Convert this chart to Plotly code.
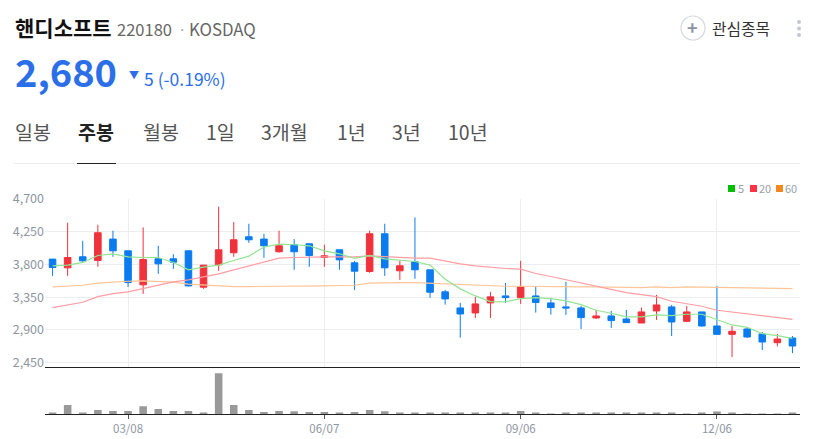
import plotly.graph_objects as go

FONT = "Noto Sans CJK KR"
W, H = 818, 439

weeks = list(range(50))
tick_weeks = [5, 18, 31, 44]
tick_dates = ["03/08", "06/07", "09/06", "12/06"]
price_ticks = [2450, 2900, 3350, 3800, 4250, 4700]

opens = [3874, 3754, 3906, 3855, 4149, 3988, 3520, 3878, 3878, 3988,
         3488, 3795, 3961, 4181, 4149, 3975, 4071, 4085, 3896, 4002,
         3823, 3704, 4222, 3713, 3837, 3727, 3424, 3203, 3134, 3272,
         3368, 3345, 3368, 3272, 3217, 3203, 3065, 3093, 3051, 2996,
         3162, 3217, 3019, 3148, 2955, 2840, 2914, 2845, 2725, 2790]
closes = [3759, 3896, 3850, 4236, 3988, 3552, 3869, 3809, 3832, 3506,
          3791, 4002, 4140, 4140, 4057, 4057, 3975, 3924, 3919, 3864,
          3708, 4222, 3754, 3782, 3727, 3419, 3327, 3120, 3258, 3355,
          3345, 3492, 3277, 3208, 3203, 3070, 3093, 3029, 3001, 3148,
          3244, 3010, 3148, 2955, 2840, 2882, 2804, 2735, 2776, 2680]
highs = [3874, 4374, 4126, 4346, 4264, 3988, 4310, 4057, 3942, 3988,
         3791, 4594, 4383, 4360, 4222, 4264, 4149, 4085, 4071, 4002,
         3850, 4264, 4360, 3850, 4448, 3727, 3451, 3272, 3355, 3424,
         3548, 3850, 3506, 3341, 3561, 3231, 3176, 3162, 3176, 3208,
         3382, 3244, 3231, 3148, 3506, 2955, 2928, 2872, 2845, 2817]
lows = [3644, 3644, 3828, 3768, 3906, 3492, 3396, 3672, 3740, 3497,
        3465, 3713, 3906, 4098, 3892, 3961, 3727, 3768, 3768, 3727,
        3451, 3685, 3644, 3589, 3603, 3341, 3249, 2794, 3065, 3065,
        3272, 3258, 3139, 3111, 3107, 2914, 3051, 2928, 2996, 2996,
        3038, 2817, 3006, 2946, 2840, 2528, 2790, 2624, 2675, 2583]

ma5 = [3782, 3791, 3828, 3924, 3947, 3906, 3896, 3896, 3828, 3727,
       3763, 3791, 3855, 3915, 4039, 4080, 4071, 4057, 3988, 3947,
       3883, 3924, 3878, 3855, 3841, 3791, 3598, 3465, 3368, 3290,
       3286, 3332, 3345, 3332, 3300, 3249, 3171, 3130, 3079, 3079,
       3107, 3097, 3116, 3116, 3047, 2969, 2937, 2850, 2822, 2785]
ma20 = [3208, 3244, 3281, 3359, 3400, 3424, 3469, 3520, 3561, 3589,
        3626, 3672, 3727, 3782, 3837, 3887, 3896, 3906, 3906, 3906,
        3906, 3919, 3906, 3892, 3887, 3887, 3846, 3809, 3782, 3763,
        3745, 3736, 3676, 3635, 3589, 3552, 3497, 3460, 3414, 3387,
        3359, 3295, 3263, 3226, 3171, 3148, 3125, 3097, 3075, 3047]
ma60 = [3492, 3506, 3515, 3543, 3561, 3570, 3575, 3570, 3557, 3529,
        3515, 3506, 3497, 3497, 3497, 3497, 3497, 3497, 3506, 3511,
        3515, 3543, 3552, 3552, 3552, 3543, 3534, 3525, 3515, 3506,
        3501, 3501, 3497, 3497, 3492, 3492, 3492, 3488, 3483, 3483,
        3492, 3483, 3492, 3488, 3483, 3483, 3483, 3474, 3474, 3469]

volumes = [5, 28, 5, 13, 10, 10, 24, 16, 10, 10,
           5, 124, 28, 13, 7, 10, 9, 7, 7, 3,
           7, 13, 9, 4, 4, 4, 3, 4, 3, 3,
           3, 10, 3, 1, 3, 3, 3, 3, 3, 3,
           3, 3, 1, 3, 8, 3, 1, 1, 1, 3]


def px_x(x):
    return x / W


def px_y(y):
    return 1 - y / H


def label(x, y, text, size, color, anchor="left"):
    return dict(xref="paper", yref="paper", x=px_x(x), y=px_y(y), text=text, showarrow=False,
                xanchor=anchor, yanchor="middle", align="left", borderpad=0,
                font=dict(family=FONT, size=size, color=color))


def box(x0, y0, x1, y1, color):
    return dict(type="rect", xref="paper", yref="paper", x0=px_x(x0), x1=px_x(x1),
                y0=px_y(y0), y1=px_y(y1), fillcolor=color, line_width=0)


fig = go.Figure()

fig.add_trace(go.Scatter(x=weeks, y=ma60, mode="lines", line=dict(color="#ffc596", width=1.2)))
fig.add_trace(go.Scatter(x=weeks, y=ma20, mode="lines", line=dict(color="#ff9da3", width=1.2)))
fig.add_trace(go.Scatter(x=weeks, y=ma5, mode="lines", line=dict(color="#93e493", width=1.2)))

fig.add_trace(go.Candlestick(
    x=weeks, open=opens, high=highs, low=lows, close=closes,
    increasing=dict(line=dict(color="#f0323c", width=1), fillcolor="#f0323c"),
    decreasing=dict(line=dict(color="#0b7bf0", width=1), fillcolor="#0b7bf0"),
    whiskerwidth=0,
))

fig.add_trace(go.Bar(x=weeks, y=volumes, width=0.5, marker=dict(color="#999999", line_width=0),
                     xaxis="x2", yaxis="y2"))

annotations = [
    label(14, 27, "<b>핸디소프트</b>", 21, "#111111"),
    label(116, 29, "220180", 16.5, "#666666"),
    label(177, 28, "·", 15, "#aaaaaa"),
    label(188, 29, "KOSDAQ", 16.8, "#666666"),
    label(14, 70, "<b>2,680</b>", 38, "#2b6fe8"),
    label(128, 74, "▼", 10, "#2b6fe8"),
    label(143, 78, "5 (-0.19%)", 17.5, "#2b6fe8"),
    label(711, 28, "관심종목", 15.8, "#333333"),
    label(692, 27.5, "<b>+</b>", 18, "#8a93a3", "center"),
    label(737, 188.5, "5", 11, "#9aa0aa"),
    label(758, 188.5, "20", 11, "#9aa0aa"),
    label(784, 188.5, "60", 11, "#9aa0aa"),
]
tabs = [(14, "일봉"), (77, "<b>주봉</b>"), (142, "월봉"), (205, "1일"),
        (260, "3개월"), (336, "1년"), (391, "3년"), (447, "10년")]
for tab_x, tab_name in tabs:
    color = "#222222" if "<b>" in tab_name else "#555555"
    annotations.append(label(tab_x, 131, tab_name, 19.5, color))

shapes = [
    dict(type="line", xref="paper", yref="paper", x0=px_x(13), x1=px_x(800), y0=px_y(163.5), y1=px_y(163.5),
         line=dict(color="#eeeeee", width=1)),
    dict(type="line", xref="paper", yref="paper", x0=px_x(77), x1=px_x(116), y0=px_y(163.5), y1=px_y(163.5),
         line=dict(color="#222222", width=1)),
    dict(type="circle", xref="paper", yref="paper", x0=px_x(681), x1=px_x(705), y0=px_y(16), y1=px_y(40),
         line=dict(color="#d5d8e0", width=1.2)),
    box(728, 185, 735, 192, "#00c000"),
    box(750, 185, 757, 192, "#ff3344"),
    box(776, 185, 783, 192, "#f5871f"),
]
for dot_y in (22, 28.5, 35):
    shapes.append(dict(type="circle", xref="paper", yref="paper", x0=px_x(797), x1=px_x(801),
                       y0=px_y(dot_y - 2), y1=px_y(dot_y + 2), fillcolor="#c5c8d0", line_width=0))

fig.update_layout(
    width=W, height=H, autosize=False,
    margin=dict(l=0, r=0, t=0, b=0, pad=0, autoexpand=False),
    paper_bgcolor="white", plot_bgcolor="white",
    showlegend=False, boxgap=0.38,
    annotations=annotations, shapes=shapes,
    xaxis=dict(domain=[px_x(45), px_x(800)], range=[-0.5, 49.5], anchor="y",
               rangeslider=dict(visible=False), tickvals=tick_weeks, ticktext=["", "", "", ""],
               showgrid=True, gridcolor="#ebedf0", gridwidth=1, zeroline=False,
               showline=True, linecolor="#222222", linewidth=1.2, ticks=""),
    yaxis=dict(domain=[px_y(366.8), px_y(199)], range=[2394, 4700], anchor="x",
               tickvals=price_ticks, ticktext=[f"{v:,}" for v in price_ticks],
               tickfont=dict(family=FONT, size=12.5, color="#8f96a3"),
               showgrid=True, gridcolor="#ebedf0", gridwidth=1, zeroline=False, ticks="", ticklen=0),
    xaxis2=dict(domain=[px_x(45), px_x(800)], range=[-0.5, 49.5], anchor="y2",
                tickvals=tick_weeks, ticktext=tick_dates,
                tickfont=dict(family=FONT, size=11.5, color="#8f96a3"),
                showgrid=False, zeroline=False, showline=True, linecolor="#222222", linewidth=1,
                ticks="outside", ticklen=4, tickcolor="#555555"),
    yaxis2=dict(domain=[px_y(414.2), px_y(367.6)], range=[0, 141], anchor="x2",
                showgrid=False, showticklabels=False, zeroline=False, ticks=""),
)

fig.write_html("out.html", config=dict(displayModeBar=False), post_script="document.body.style.margin='0';")
